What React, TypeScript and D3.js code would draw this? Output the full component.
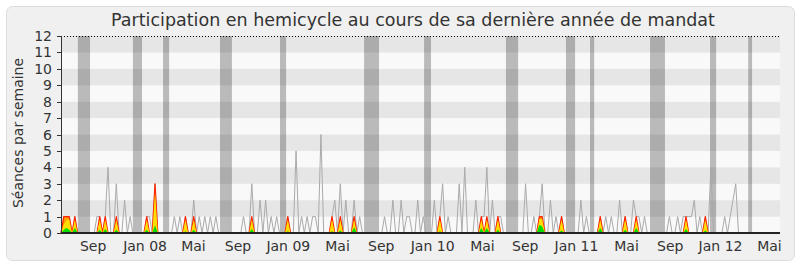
import React from "react";
import * as d3 from "d3";

// Weekly values (week index 0 .. 260)
const seances = [
  0,1,1,1,0,1,0,0,0,0,
  0,0,0,1,1,0,1,4,0,0,
  3,0,0,2,0,1,0,0,0,0,
  0,1,1,0,3,0,0,0,0,0,
  0,1,0,1,0,1,0,0,2,0,
  1,0,1,0,1,0,1,0,0,0,
  0,0,0,0,0,0,1,0,0,3,
  0,0,2,0,2,0,1,0,1,0,
  0,0,1,0,0,5,0,1,0,1,
  0,1,1,0,6,0,0,0,1,2,
  0,3,0,2,0,0,2,0,1,0,
  0,0,0,0,0,0,0,1,0,0,
  2,0,0,2,0,1,1,0,0,2,
  0,1,0,0,0,2,0,1,3,0,
  1,0,0,0,3,0,4,0,0,0,
  2,0,1,1,4,0,2,0,1,1,
  0,0,0,0,0,0,0,0,3,0,
  0,1,0,1,3,0,0,2,0,1,
  0,1,0,0,0,0,0,0,2,0,
  1,0,0,0,0,1,0,1,0,1,
  0,0,2,0,1,0,0,2,1,1,
  0,1,0,0,0,0,0,0,0,0,
  1,0,0,1,0,1,1,1,1,2,
  0,1,0,1,0,4,0,0,0,0,
  1,0,1,2,3,0,0,0,0,0,
  0,0,0,0,0,0,0,0,0,0,0,
];

const presences = [
  0,1,1,1,0,1,0,0,0,0,
  0,0,0,0,1,0,1,0,0,0,
  1,0,0,0,0,0,0,0,0,0,
  0,1,0,0,3,0,0,0,0,0,
  0,0,0,0,0,1,0,0,1,0,
  0,0,0,0,0,0,0,0,0,0,
  0,0,0,0,0,0,0,0,0,1,
  0,0,0,0,0,0,0,0,0,0,
  0,0,1,0,0,0,0,0,0,0,
  0,0,0,0,0,0,0,0,1,0,
  0,1,0,0,0,0,1,0,0,0,
  0,0,0,0,0,0,0,0,0,0,
  0,0,0,0,0,0,0,0,0,0,
  0,0,0,0,0,0,0,1,0,0,
  0,0,0,0,0,0,0,0,0,0,
  0,0,1,0,1,0,0,0,1,0,
  0,0,0,0,0,0,0,0,0,0,
  0,0,0,1,1,0,0,0,0,0,
  0,1,0,0,0,0,0,0,0,0,
  0,0,0,0,0,1,0,0,0,0,
  0,0,0,0,1,0,0,0,1,0,
  0,0,0,0,0,0,0,0,0,0,
  0,0,0,0,0,0,1,0,0,0,
  0,0,0,1,0,0,0,0,0,0,
  0,0,0,0,0,0,0,0,0,0,
  0,0,0,0,0,0,0,0,0,0,0,
];

const participations = [
  0,0.5,0.8,0.8,0,0.8,0,0,0,0,
  0,0,0,0,0.8,0,0.8,0,0,0,
  0.8,0,0,0,0,0,0,0,0,0,
  0,0.8,0,0,2.5,0,0,0,0,0,
  0,0,0,0,0,0.8,0,0,0.8,0,
  0,0,0,0,0,0,0,0,0,0,
  0,0,0,0,0,0,0,0,0,0.8,
  0,0,0,0,0,0,0,0,0,0,
  0,0,0.8,0,0,0,0,0,0,0,
  0,0,0,0,0,0,0,0,0.8,0,
  0,0.8,0,0,0,0,0.8,0,0,0,
  0,0,0,0,0,0,0,0,0,0,
  0,0,0,0,0,0,0,0,0,0,
  0,0,0,0,0,0,0,0.8,0,0,
  0,0,0,0,0,0,0,0,0,0,
  0,0,0.8,0,0.8,0,0,0,0.8,0,
  0,0,0,0,0,0,0,0,0,0,
  0,0,0,0.85,0.85,0,0,0,0,0,
  0,0.8,0,0,0,0,0,0,0,0,
  0,0,0,0,0,0.8,0,0,0,0,
  0,0,0,0,0.8,0,0,0,0.8,0,
  0,0,0,0,0,0,0,0,0,0,
  0,0,0,0,0,0,0.8,0,0,0,
  0,0,0,0.8,0,0,0,0,0,0,
  0,0,0,0,0,0,0,0,0,0,
  0,0,0,0,0,0,0,0,0,0,0,
];

const interventions = [
  0,0.2,0.3,0.2,0,0.3,0,0,0,0,
  0,0,0,0,0.2,0,0.25,0,0,0,
  0.2,0,0,0,0,0,0,0,0,0,
  0,0.2,0,0,0.45,0,0,0,0,0,
  0,0,0,0,0,0.1,0,0,0.2,0,
  0,0,0,0,0,0,0,0,0,0,
  0,0,0,0,0,0,0,0,0,0.25,
  0,0,0,0,0,0,0,0,0,0,
  0,0,0.1,0,0,0,0,0,0,0,
  0,0,0,0,0,0,0,0,0.1,0,
  0,0.15,0,0,0,0,0.35,0,0,0,
  0,0,0,0,0,0,0,0,0,0,
  0,0,0,0,0,0,0,0,0,0,
  0,0,0,0,0,0,0,0.1,0,0,
  0,0,0,0,0,0,0,0,0,0,
  0,0,0.3,0,0.3,0,0,0,0.2,0,
  0,0,0,0,0,0,0,0,0,0,
  0,0,0,0.5,0.4,0,0,0,0,0,
  0,0.15,0,0,0,0,0,0,0,0,
  0,0,0,0,0,0.3,0,0,0,0,
  0,0,0,0,0.2,0,0,0,0.3,0,
  0,0,0,0,0,0,0,0,0,0,
  0,0,0,0,0,0,0.25,0,0,0,
  0,0,0,0.15,0,0,0,0,0,0,
  0,0,0,0,0,0,0,0,0,0,
  0,0,0,0,0,0,0,0,0,0,0,
];

// Parliamentary recess periods, in week index units [start, end]
const vacances: [number, number][] = [
  [6.1, 10.5], [26.0, 29.3], [36.9, 39.1], [57.5, 61.8], [79.2, 81.4],
  [109.6, 115.0], [131.3, 133.8], [160.9, 165.3], [182.6, 185.9],
  [191.3, 192.8], [213.0, 218.4], [234.7, 236.9], [248.5, 249.9],
];

const xTickWeeks = [11.6, 30.4, 47.9, 64.0, 82.2, 100.0, 115.8, 134.4, 152.4, 167.9, 186.4, 204.5, 220.3, 238.5, 256.2];
const xTickLabels = ["Sep", "Jan 08", "Mai", "Sep", "Jan 09", "Mai", "Sep", "Jan 10", "Mai", "Sep", "Jan 11", "Mai", "Sep", "Jan 12", "Mai"];
const yTicks = [0, 1, 2, 3, 4, 5, 6, 7, 8, 9, 10, 11, 12];

const TITLE = "Participation en hemicycle au cours de sa dernière année de mandat";
const Y_TITLE = "Séances par semaine";

export default function App() {
  const W = 800, H = 267;
  const left = 61, right = 780, top = 36, bottom = 233;
  const x = d3.scaleLinear().domain([0, seances.length - 1]).range([left, right]);
  const y = d3.scaleLinear().domain([0, 12]).range([bottom, top]);
  const idx = d3.range(seances.length);

  const lineOf = (arr: number[]) => d3.line<number>().x((i) => x(i)).y((i) => y(arr[i]))(idx) || "";
  const area = (arr: number[]) =>
    d3.area<number>().x((i) => x(i)).y0(y(0)).y1((i) => y(arr[i]))(idx) || "";

  const font = "DejaVu Sans, Verdana, sans-serif";
  const bands = d3.range(0, 12);

  return (
    <svg width={W} height={H} style={{ position: "absolute", left: 0, top: 0, display: "block" }}>
      <rect x={0} y={0} width={W} height={H} fill="#ffffff" />
      <rect x={6.5} y={6.5} width={788} height={254} rx={6} fill="#f0f0f0" stroke="#dcdcdc" />
      <text x={413} y={26} textAnchor="middle" fontFamily={font} fontSize={17.5} fill="#333">{TITLE}</text>

      {bands.map((b) => (
        <rect key={b} x={left} y={y(b + 1)} width={right - left} height={y(b) - y(b + 1)}
          fill={b % 2 === 1 ? "#e6e6e6" : "#f9f9f9"} />
      ))}

      {vacances.map(([s, e], k) => (
        <rect key={k} x={x(s)} y={top} width={x(e) - x(s)} height={bottom - top} fill="#000" fillOpacity={0.25} />
      ))}

      <path d={lineOf(seances)} fill="none" stroke="#aaaaaa" strokeWidth={1} />
      <path d={area(presences)} fill="#ff9900" />
      <path d={lineOf(presences)} fill="none" stroke="#ff2200" strokeWidth={1.2} strokeLinejoin="round" />
      <path d={area(participations)} fill="#ffdd00" />
      <path d={area(interventions)} fill="#00dd00" />

      <line x1={left} x2={right} y1={top + 0.5} y2={top + 0.5} stroke="#000" strokeDasharray="1,2" />
      <line x1={left} x2={right} y1={bottom} y2={bottom} stroke="#222" strokeWidth={2} />
      <line x1={left + 0.5} x2={left + 0.5} y1={top} y2={bottom} stroke="#333" />
      {yTicks.map((t) => (
        <g key={t}>
          <line x1={left - 4} x2={left} y1={Math.round(y(t)) + 0.5} y2={Math.round(y(t)) + 0.5} stroke="#333" />
          <text x={52} y={y(t) + 5} textAnchor="end" fontFamily={font} fontSize={14} fill="#333">{t}</text>
        </g>
      ))}
      {xTickWeeks.map((w, k) => (
        <text key={k} x={x(w)} y={251} textAnchor="middle" fontFamily={font} fontSize={14} fill="#333">{xTickLabels[k]}</text>
      ))}
      <text transform={`translate(23,${133}) rotate(-90)`} textAnchor="middle" fontFamily={font} fontSize={14} fill="#333">{Y_TITLE}</text>
    </svg>
  );
}
